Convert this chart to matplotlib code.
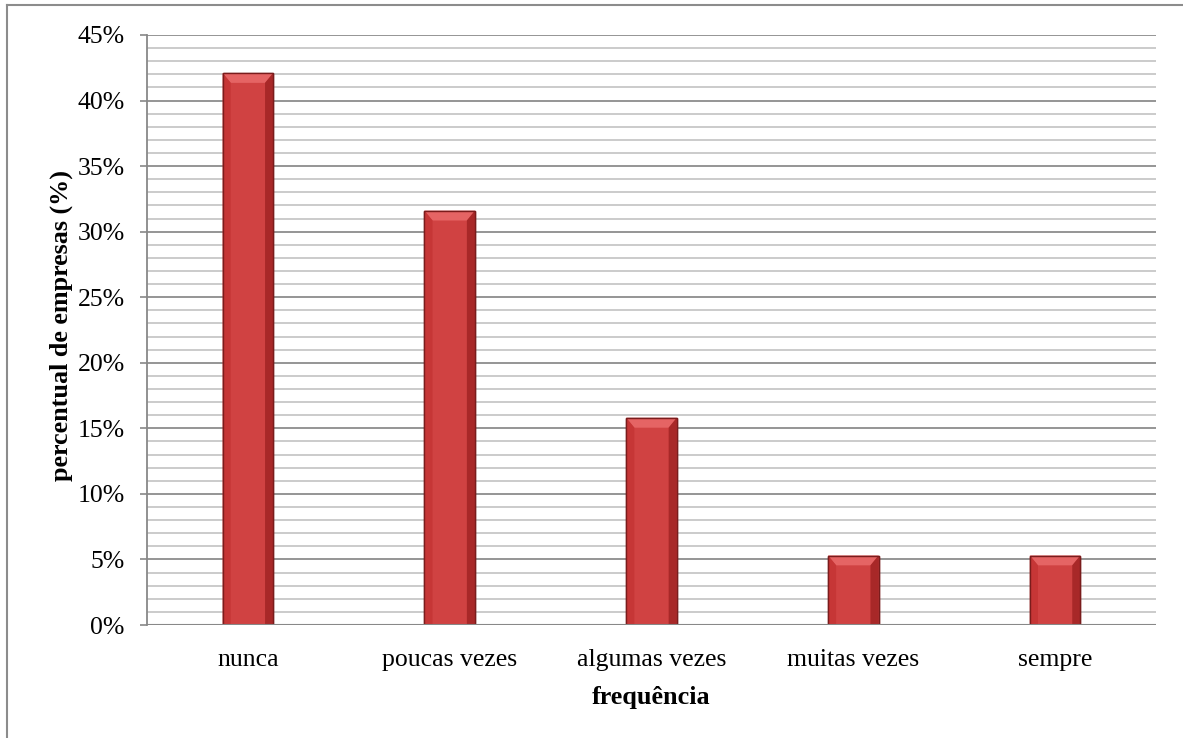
import matplotlib
matplotlib.use("Agg")
import matplotlib.pyplot as plt
from matplotlib.patches import Polygon, Rectangle
import numpy as np

categories = ["nunca", "poucas vezes", "algumas vezes", "muitas vezes", "sempre"]
values = [42.1, 31.6, 15.8, 5.3, 5.3]
yticks = [0, 5, 10, 15, 20, 25, 30, 35, 40, 45]
ytick_labels = ["0%", "5%", "10%", "15%", "20%", "25%", "30%", "35%", "40%", "45%"]

plt.rcParams['font.family'] = ['Liberation Serif', 'DejaVu Serif']
FS = 18.5
FSL = 18.8

fig = plt.figure(figsize=(11.83, 7.38), dpi=100)
ax = fig.add_axes([147/1183, 113/738, (1156-147)/1183, 590/738])

x = np.arange(len(categories))
width = 0.25
bars = ax.bar(x, values, width=width, color='#D04242', edgecolor='#7A1C1C',
              linewidth=1.0, zorder=3)

# bevel highlights derived from each bar
bev_y = 0.75
for b in bars:
    x0 = b.get_x(); w = b.get_width(); h = b.get_height()
    bx = w * 0.16
    top = Polygon([[x0, h], [x0 + w, h], [x0 + w - bx, h - bev_y], [x0 + bx, h - bev_y]],
                  closed=True, facecolor='#E56464', edgecolor='none', zorder=4)
    ax.add_patch(top)
    left = Polygon([[x0, 0], [x0, h], [x0 + bx, h - bev_y], [x0 + bx, 0]],
                   closed=True, facecolor='#C63636', edgecolor='none', zorder=4)
    ax.add_patch(left)
    right = Polygon([[x0 + w, 0], [x0 + w, h], [x0 + w - bx, h - bev_y], [x0 + w - bx, 0]],
                    closed=True, facecolor='#A82828', edgecolor='none', zorder=4)
    ax.add_patch(right)
    ax.add_patch(Rectangle((x0, 0), w, h, facecolor='none', edgecolor='#7A1C1C',
                           linewidth=1.0, zorder=5))

ax.set_xlim(-0.5, len(categories) - 0.5)
ax.set_ylim(0, 45)

# gridlines
for v in range(0, 46):
    if v % 5 == 0:
        ax.axhline(v, color='#8C8C8C', linewidth=1.3, zorder=1)
    else:
        ax.axhline(v, color='#BDBDBD', linewidth=1.1, zorder=1)
ax.axhline(0, color='#888888', linewidth=1.5, zorder=6)

ax.set_yticks(yticks)
ax.set_yticklabels(ytick_labels, fontsize=FS)
ax.set_xticks(x)
ax.set_xticklabels(categories, fontsize=FS)
ax.tick_params(axis='x', length=0, pad=17)
ax.tick_params(axis='y', length=5, width=1.2, color='#888888', pad=11)

for s in ['top', 'right', 'bottom']:
    ax.spines[s].set_visible(False)
ax.spines['left'].set_color('#888888')
ax.spines['left'].set_linewidth(1.3)

ax.set_ylabel("percentual de empresas (%)", fontsize=FSL, fontweight='bold')
ax.yaxis.set_label_coords(-0.0733, 0.507)
ax.set_xlabel("frequência", fontsize=FSL, fontweight='bold')
ax.xaxis.set_label_coords(0.5, -0.104)

# outer frame
fig.add_artist(plt.Line2D([7/1183, 7/1183], [0, 1 - 5/738], transform=fig.transFigure,
                          color='#8C8C8C', linewidth=1.5))
fig.add_artist(plt.Line2D([7/1183, 1], [1 - 5/738, 1 - 5/738], transform=fig.transFigure,
                          color='#8C8C8C', linewidth=1.5))

fig.savefig("out.png", dpi=100)
